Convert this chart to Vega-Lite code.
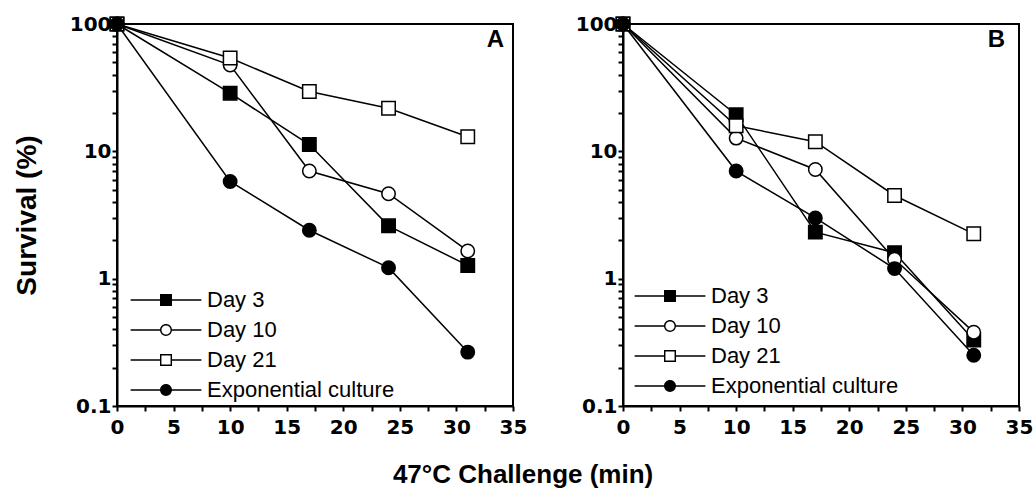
{
  "$schema": "https://vega.github.io/schema/vega-lite/v6.json",
  "padding": {"left": 12, "top": 13, "right": 5, "bottom": 5},
  "background": "white",
  "datasets": {
    "surv": [
      {"panel": "A", "series": "Day 3", "time": 0, "survival": 100},
      {"panel": "A", "series": "Day 3", "time": 10, "survival": 28.6},
      {"panel": "A", "series": "Day 3", "time": 17, "survival": 11.3},
      {"panel": "A", "series": "Day 3", "time": 24, "survival": 2.6},
      {"panel": "A", "series": "Day 3", "time": 31, "survival": 1.27},
      {"panel": "A", "series": "Day 10", "time": 0, "survival": 100},
      {"panel": "A", "series": "Day 10", "time": 10, "survival": 47.6},
      {"panel": "A", "series": "Day 10", "time": 17, "survival": 7.0},
      {"panel": "A", "series": "Day 10", "time": 24, "survival": 4.65},
      {"panel": "A", "series": "Day 10", "time": 31, "survival": 1.65},
      {"panel": "A", "series": "Day 21", "time": 0, "survival": 100},
      {"panel": "A", "series": "Day 21", "time": 10, "survival": 54},
      {"panel": "A", "series": "Day 21", "time": 17, "survival": 29.5},
      {"panel": "A", "series": "Day 21", "time": 24, "survival": 21.8},
      {"panel": "A", "series": "Day 21", "time": 31, "survival": 13},
      {"panel": "A", "series": "Exponential culture", "time": 0, "survival": 100},
      {"panel": "A", "series": "Exponential culture", "time": 10, "survival": 5.8},
      {"panel": "A", "series": "Exponential culture", "time": 17, "survival": 2.4},
      {"panel": "A", "series": "Exponential culture", "time": 24, "survival": 1.22},
      {"panel": "A", "series": "Exponential culture", "time": 31, "survival": 0.265},
      {"panel": "B", "series": "Day 3", "time": 0, "survival": 100},
      {"panel": "B", "series": "Day 3", "time": 10, "survival": 19.4},
      {"panel": "B", "series": "Day 3", "time": 17, "survival": 2.32},
      {"panel": "B", "series": "Day 3", "time": 24, "survival": 1.6},
      {"panel": "B", "series": "Day 3", "time": 31, "survival": 0.33},
      {"panel": "B", "series": "Day 10", "time": 0, "survival": 100},
      {"panel": "B", "series": "Day 10", "time": 10, "survival": 12.7},
      {"panel": "B", "series": "Day 10", "time": 17, "survival": 7.2},
      {"panel": "B", "series": "Day 10", "time": 24, "survival": 1.42},
      {"panel": "B", "series": "Day 10", "time": 31, "survival": 0.38},
      {"panel": "B", "series": "Day 21", "time": 0, "survival": 100},
      {"panel": "B", "series": "Day 21", "time": 10, "survival": 15.9},
      {"panel": "B", "series": "Day 21", "time": 17, "survival": 11.9},
      {"panel": "B", "series": "Day 21", "time": 24, "survival": 4.5},
      {"panel": "B", "series": "Day 21", "time": 31, "survival": 2.25},
      {"panel": "B", "series": "Exponential culture", "time": 0, "survival": 100},
      {"panel": "B", "series": "Exponential culture", "time": 10, "survival": 7.0},
      {"panel": "B", "series": "Exponential culture", "time": 17, "survival": 3.0},
      {"panel": "B", "series": "Exponential culture", "time": 24, "survival": 1.2},
      {"panel": "B", "series": "Exponential culture", "time": 31, "survival": 0.25}
    ]
  },
  "title": {"text": "47°C Challenge (min)", "orient": "bottom", "anchor": "middle", "font": "Liberation Sans", "fontSize": 26, "fontWeight": "bold", "color": "black", "offset": 24},
  "config": {
    "view": {"stroke": "black", "strokeWidth": 2},
    "axis": {
      "domainColor": "black", "domainWidth": 2, "tickColor": "black", "tickWidth": 2, "tickSize": 5,
      "labelFont": "DejaVu Sans", "labelFontWeight": "bold", "labelFontSize": 20, "labelColor": "black",
      "titleFont": "Liberation Sans", "titleFontSize": 28, "titleFontWeight": "bold", "titleColor": "black",
      "grid": false, "labelOverlap": false, "labelBound": false, "labelFlush": false
    },
    "legend": {"padding": 0, "symbolSize": 144, "symbolStrokeWidth": 0, "symbolFillColor": "black", "symbolOpacity": 1, "labelFont": "Liberation Sans", "labelFontSize": 22, "labelColor": "black", "labelOffset": 30, "labelLimit": 400, "rowPadding": 8},
    "title": {"font": "Liberation Sans", "fontWeight": "bold", "color": "black"}
  },
  "spacing": 46,
  "resolve": {"scale": {"shape": "independent", "fill": "independent"}, "legend": {"shape": "independent", "fill": "independent"}},
  "hconcat": [
    {
      "width": 396, "height": 382,
      "data": {"name": "surv"},
      "transform": [{"filter": "datum.panel == 'A'"}],
      "title": {"text": "A", "anchor": "end", "frame": "group", "orient": "top", "offset": 0, "dy": 38, "dx": -9, "fontSize": 24},
      "encoding": {
        "x": {"field": "time", "type": "quantitative", "scale": {"domain": [0, 35], "nice": false},
          "axis": {"values": [0, 2.5, 5, 7.5, 10, 12.5, 15, 17.5, 20, 22.5, 25, 27.5, 30, 32.5, 35], "labelExpr": "datum.value % 5 == 0 ? datum.label : ''", "title": null, "labelPadding": 6}},
        "y": {"field": "survival", "type": "quantitative", "scale": {"type": "log", "domain": [0.1, 100], "nice": false},
          "axis": {"values": [0.1, 0.2, 0.3, 0.4, 0.5, 0.6, 0.7, 0.8, 0.9, 1, 2, 3, 4, 5, 6, 7, 8, 9, 10, 20, 30, 40, 50, 60, 70, 80, 90, 100], "format": "~g", "labelExpr": "indexof([0.1, 1, 10, 100], datum.value) >= 0 ? datum.label : ''", "title": "Survival (%)", "labelPadding": 1, "titlePadding": 28}}
      },
      "resolve": {"scale": {"shape": "independent"}, "legend": {"shape": "independent"}},
      "layer": [
        {"mark": {"type": "line", "color": "black", "strokeWidth": 1.5}, "encoding": {"detail": {"field": "series"}}},
        {"mark": {"type": "point", "filled": true, "size": 180, "stroke": "black", "strokeWidth": 1.5, "opacity": 1},
          "encoding": {
            "shape": {"field": "series", "type": "nominal", "scale": {"domain": ["Day 3", "Day 10", "Day 21", "Exponential culture"], "range": ["square", "circle", "square", "circle"]}, "legend": null},
            "fill": {"field": "series", "type": "nominal", "scale": {"domain": ["Day 3", "Day 10", "Day 21", "Exponential culture"], "range": ["black", "white", "white", "black"]}, "legend": null}
          }},
        {"mark": {"type": "point", "filled": true, "color": "black", "size": 0, "strokeWidth": 0, "opacity": 1},
          "encoding": {
            "shape": {"field": "series", "type": "nominal", "scale": {"domain": ["Day 3", "Day 10", "Day 21", "Exponential culture"], "range": [
              "M-5.9,-0.125H-1V-1H1V-0.125H5.9V0.125H1V1H-1V0.125H-5.9Z",
              "M-5.9,-0.125H-0.99A1,1,0,0,1,0.99,-0.125H5.9V0.125H0.99A1,1,0,0,1,-0.99,0.125H-5.9ZM0.76,0A0.76,0.76,0,1,0,-0.76,0A0.76,0.76,0,1,0,0.76,0Z",
              "M-5.9,-0.125H-1V-1H1V-0.125H5.9V0.125H1V1H-1V0.125H-5.9ZM-0.76,-0.76V0.76H0.76V-0.76Z",
              "M-5.9,-0.125H-0.99A1,1,0,0,1,0.99,-0.125H5.9V0.125H0.99A1,1,0,0,1,-0.99,0.125H-5.9Z"]},
              "legend": {"orient": "none", "legendX": 38, "legendY": 265, "title": null}}
          }}
      ]
    },
    {
      "width": 396, "height": 382,
      "data": {"name": "surv"},
      "transform": [{"filter": "datum.panel == 'B'"}],
      "title": {"text": "B", "anchor": "end", "frame": "group", "orient": "top", "offset": 0, "dy": 38, "dx": -14, "fontSize": 24},
      "encoding": {
        "x": {"field": "time", "type": "quantitative", "scale": {"domain": [0, 35], "nice": false},
          "axis": {"values": [0, 2.5, 5, 7.5, 10, 12.5, 15, 17.5, 20, 22.5, 25, 27.5, 30, 32.5, 35], "labelExpr": "datum.value % 5 == 0 ? datum.label : ''", "title": null, "labelPadding": 6}},
        "y": {"field": "survival", "type": "quantitative", "scale": {"type": "log", "domain": [0.1, 100], "nice": false},
          "axis": {"values": [0.1, 0.2, 0.3, 0.4, 0.5, 0.6, 0.7, 0.8, 0.9, 1, 2, 3, 4, 5, 6, 7, 8, 9, 10, 20, 30, 40, 50, 60, 70, 80, 90, 100], "format": "~g", "labelExpr": "indexof([0.1, 1, 10, 100], datum.value) >= 0 ? datum.label : ''", "title": null, "labelPadding": 1}}
      },
      "resolve": {"scale": {"shape": "independent"}, "legend": {"shape": "independent"}},
      "layer": [
        {"mark": {"type": "line", "color": "black", "strokeWidth": 1.5}, "encoding": {"detail": {"field": "series"}}},
        {"mark": {"type": "point", "filled": true, "size": 180, "stroke": "black", "strokeWidth": 1.5, "opacity": 1},
          "encoding": {
            "shape": {"field": "series", "type": "nominal", "scale": {"domain": ["Day 3", "Day 10", "Day 21", "Exponential culture"], "range": ["square", "circle", "square", "circle"]}, "legend": null},
            "fill": {"field": "series", "type": "nominal", "scale": {"domain": ["Day 3", "Day 10", "Day 21", "Exponential culture"], "range": ["black", "white", "white", "black"]}, "legend": null}
          }},
        {"mark": {"type": "point", "filled": true, "color": "black", "size": 0, "strokeWidth": 0, "opacity": 1},
          "encoding": {
            "shape": {"field": "series", "type": "nominal", "scale": {"domain": ["Day 3", "Day 10", "Day 21", "Exponential culture"], "range": [
              "M-5.9,-0.125H-1V-1H1V-0.125H5.9V0.125H1V1H-1V0.125H-5.9Z",
              "M-5.9,-0.125H-0.99A1,1,0,0,1,0.99,-0.125H5.9V0.125H0.99A1,1,0,0,1,-0.99,0.125H-5.9ZM0.76,0A0.76,0.76,0,1,0,-0.76,0A0.76,0.76,0,1,0,0.76,0Z",
              "M-5.9,-0.125H-1V-1H1V-0.125H5.9V0.125H1V1H-1V0.125H-5.9ZM-0.76,-0.76V0.76H0.76V-0.76Z",
              "M-5.9,-0.125H-0.99A1,1,0,0,1,0.99,-0.125H5.9V0.125H0.99A1,1,0,0,1,-0.99,0.125H-5.9Z"]},
              "legend": {"orient": "none", "legendX": 36, "legendY": 261, "title": null}}
          }}
      ]
    }
  ]
}
